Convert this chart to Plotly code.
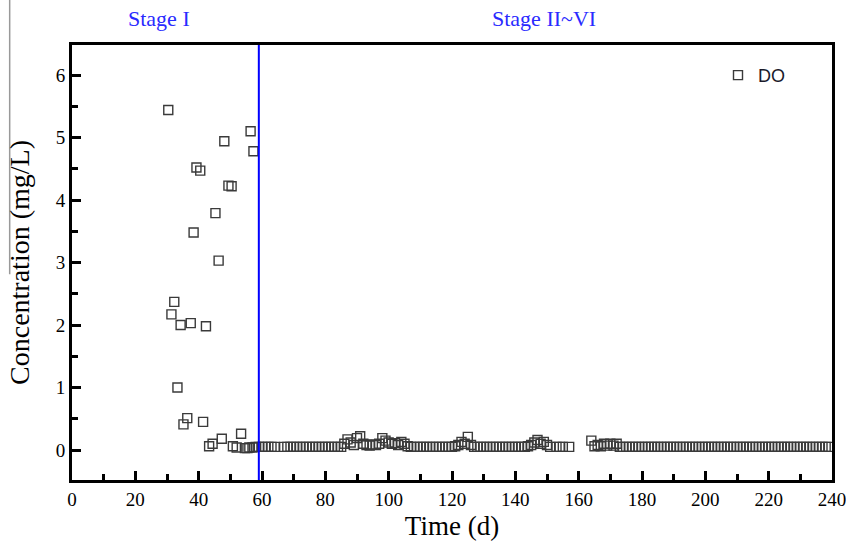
import plotly.graph_objects as go

# Stage I measurements (day, DO mg/L)
stage1_days = [30.4, 31.4, 32.3, 33.3, 34.3, 35.2, 36.4, 37.5, 38.4, 39.3,
               40.5, 41.4, 42.3, 43.3, 44.4, 45.3, 46.3, 47.3, 48.1, 49.4,
               50.4, 50.8, 52.0, 53.4, 54.6, 55.4, 56.4, 57.3]
stage1_do = [5.44, 2.17, 2.37, 1.00, 2.00, 0.41, 0.51, 2.03, 3.48, 4.52,
             4.47, 0.45, 1.98, 0.06, 0.10, 3.79, 3.03, 0.18, 4.94, 4.23,
             4.22, 0.06, 0.04, 0.26, 0.03, 0.03, 5.10, 4.78]

# Later daily measurements
base_days = [56, 57, 58, 59, 60, 61, 62, 63, 64, 67, 68, 69, 70,
             71, 72, 73, 74, 75, 76, 77, 78, 79, 80, 81, 82, 83, 84, 85,
             86, 87, 88, 89, 90, 91, 92, 93, 94, 95, 96, 97, 98, 99, 100,
             101, 102, 103, 104, 105, 106, 107, 108, 109, 110, 111, 112, 113, 114, 115,
             116, 117, 118, 119, 120, 121, 122, 123, 124, 125, 126, 127, 128, 129, 130,
             131, 132, 133, 134, 135, 136, 137, 138, 139, 140, 141, 142, 143, 144, 145,
             146, 147, 148, 149, 150, 151, 153, 154, 155, 157,
             164, 165, 166, 167, 168, 169, 170, 171, 172, 173, 174, 175,
             176, 177, 178, 179, 180, 181, 182, 183, 184, 185, 186, 187, 188, 189, 190,
             191, 192, 193, 194, 195, 196, 197, 198, 199, 200, 201, 202, 203, 204, 205,
             206, 207, 208, 209, 210, 211, 212, 213, 214, 215, 216, 217, 218, 219, 220,
             221, 222, 223, 224, 225, 226, 227, 228, 229, 230, 231, 232, 233, 234, 235,
             236, 237, 238, 239]
base_do = [0.04, 0.04, 0.05, 0.05, 0.05, 0.05, 0.05, 0.05, 0.05, 0.05, 0.05, 0.05, 0.05,
           0.05, 0.05, 0.05, 0.05, 0.05, 0.05, 0.05, 0.05, 0.05, 0.05, 0.05, 0.05, 0.05, 0.05, 0.05,
           0.10, 0.17, 0.12, 0.08, 0.19, 0.22, 0.10, 0.08, 0.07, 0.09, 0.08, 0.10, 0.19, 0.15, 0.12,
           0.10, 0.11, 0.08, 0.13, 0.10, 0.06, 0.05, 0.05, 0.05, 0.05, 0.05, 0.05, 0.05, 0.05, 0.05,
           0.05, 0.05, 0.05, 0.05, 0.05, 0.06, 0.08, 0.13, 0.10, 0.21, 0.08, 0.05, 0.05, 0.05, 0.05,
           0.05, 0.05, 0.05, 0.05, 0.05, 0.05, 0.05, 0.05, 0.05, 0.05, 0.05, 0.05, 0.05, 0.06, 0.08,
           0.12, 0.16, 0.10, 0.13, 0.08, 0.05, 0.05, 0.05, 0.05, 0.05,
           0.15, 0.06, 0.08, 0.06, 0.10, 0.07, 0.10, 0.07, 0.10, 0.05, 0.05, 0.05,
           0.05, 0.05, 0.05, 0.05, 0.05, 0.05, 0.05, 0.05, 0.05, 0.05, 0.05, 0.05, 0.05, 0.05, 0.05,
           0.05, 0.05, 0.05, 0.05, 0.05, 0.05, 0.05, 0.05, 0.05, 0.05, 0.05, 0.05, 0.05, 0.05, 0.05,
           0.05, 0.05, 0.05, 0.05, 0.05, 0.05, 0.05, 0.05, 0.05, 0.05, 0.05, 0.05, 0.05, 0.05, 0.05,
           0.05, 0.05, 0.05, 0.05, 0.05, 0.05, 0.05, 0.05, 0.05, 0.05, 0.05, 0.05, 0.05, 0.05, 0.05,
           0.05, 0.05, 0.05, 0.05]

stage_boundary = 59
stage_labels = ["Stage I", "Stage II~VI"]
stage_label_x = [27.5, 149]

x_ticks = list(range(0, 241, 20))
y_ticks = [0, 1, 2, 3, 4, 5, 6]

serif = "Liberation Serif, Times New Roman, serif"

fig = go.Figure()
fig.add_trace(go.Scatter(
    x=stage1_days + base_days, y=stage1_do + base_do,
    mode="markers", name="DO",
    marker=dict(symbol="square-open", size=9, color="#3a3a3a", line=dict(width=1.4)),
))

fig.add_shape(type="line", xref="x", yref="paper", x0=stage_boundary, x1=stage_boundary,
              y0=0, y1=1, line=dict(color="#0000ff", width=2))
# faint grey line at far left of the figure
fig.add_shape(type="line", xref="paper", yref="paper", x0=-0.082, x1=-0.082,
              y0=0.473, y1=1.11, line=dict(color="#999999", width=1.5))

for lab, lx in zip(stage_labels, stage_label_x):
    fig.add_annotation(x=lx, y=1.062, xref="x", yref="paper", yanchor="middle",
                       text=lab, showarrow=False,
                       font=dict(family=serif, size=22, color="#2a2aff"))

axis_common = dict(
    showline=True, linewidth=3, linecolor="black", mirror=True,
    ticks="inside", ticklen=9, tickwidth=2.5, tickcolor="black",
    showgrid=False, zeroline=False, automargin=False,
    ticklabeloverflow="allow",
    tickfont=dict(family=serif, size=19, color="black"),
)

fig.update_xaxes(range=[0, 240], tickvals=x_ticks,
                 minor=dict(dtick=10, ticks="inside", ticklen=6, tickwidth=2.5, tickcolor="black"),
                 title=dict(text="Time (d)", font=dict(family=serif, size=27, color="black"), standoff=8),
                 **axis_common)
fig.update_yaxes(range=[-0.48, 6.48], tickvals=y_ticks,
                 minor=dict(dtick=0.5, ticks="inside", ticklen=6, tickwidth=2.5, tickcolor="black"),
                 title=dict(text="Concentration (mg/L)", font=dict(family=serif, size=28, color="black"), standoff=18),
                 **axis_common)

fig.update_layout(
    width=846, height=543,
    margin=dict(l=72, r=14, t=45, b=63),
    paper_bgcolor="white", plot_bgcolor="white",
    showlegend=True,
    legend=dict(x=0.85, y=0.93, xanchor="left", yanchor="middle",
                font=dict(family="Liberation Sans, Arial, sans-serif", size=18, color="#1a1a2a"),
                bgcolor="rgba(0,0,0,0)"),
)

fig.write_html("out.html", config={"displayModeBar": False},
               post_script="document.body.style.margin='0';document.body.style.padding='0';")
